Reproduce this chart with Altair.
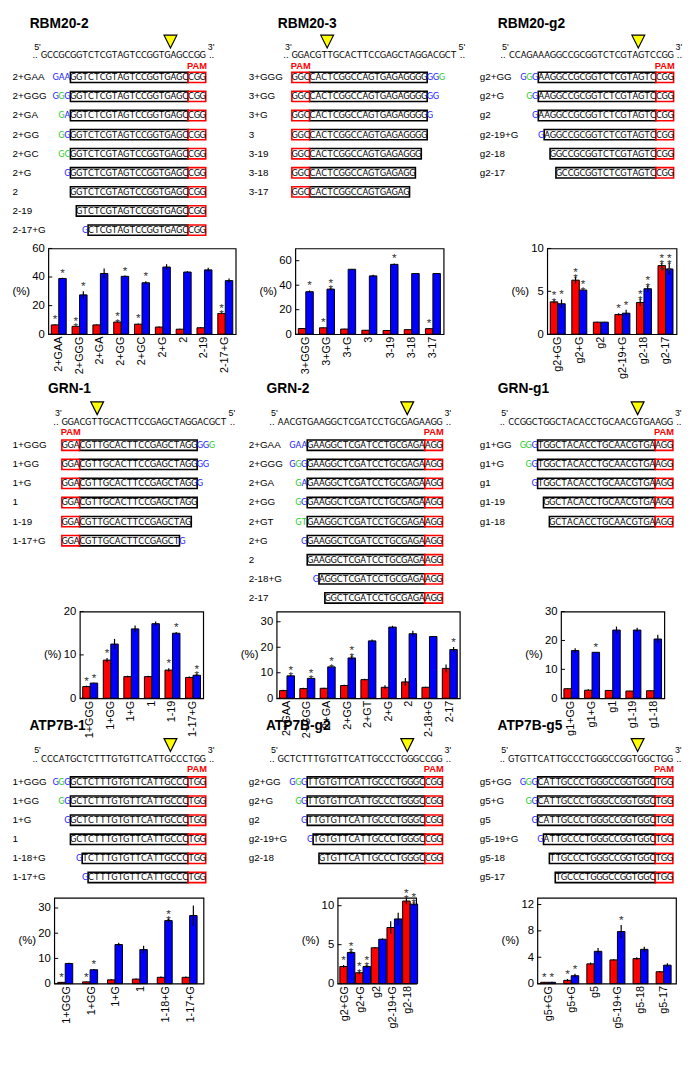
import altair as alt
import pandas as pd

FONT = "Liberation Sans"
SEQ_FONT = "Liberation Sans Narrow, DejaVu Sans Condensed, Liberation Sans"

# ======================= DATA =======================
# ---- RBM20-2 ----
RBM20_2_REF = "GCCGCGGTCTCGTAGTCCGGTGAGCCGG"
RBM20_2_LABELS = ["2+GAA", "2+GGG", "2+GA", "2+GG", "2+GC", "2+G", "2", "2-19", "2-17+G"]
RBM20_2_ADDED = ["GAA", "GGG", "GA", "GG", "GC", "G", "", "", "G"]
RBM20_2_ADDED_COLORS = ["bbb", "bgb", "gb", "gb", "gg", "b", "", "", "b"]
RBM20_2_GUIDES = ["GGTCTCGTAGTCCGGTGAGC"] * 7 + ["GTCTCGTAGTCCGGTGAGC", "CTCGTAGTCCGGTGAGC"]
RBM20_2_START = [5, 5, 5, 5, 5, 5, 5, 6, 8]
RBM20_2_RED = [6.5, 5.5, 6.5, 8.5, 7.0, 5.0, 3.5, 4.5, 14.5]
RBM20_2_RED_ERR = [0.3, 0.3, 0.3, 0.4, 0.5, 0.3, 0.3, 0.3, 0.6]
RBM20_2_BLUE = [39.0, 27.5, 42.5, 40.5, 36.0, 47.0, 43.5, 45.0, 37.5]
RBM20_2_BLUE_ERR = [0.5, 2.5, 3.5, 0.5, 1.0, 2.0, 0.5, 1.5, 1.5]
RBM20_2_RED_STARS = [1, 2, 0, 2, 1, 0, 0, 0, 2]
RBM20_2_BLUE_STARS = [1, 1, 0, 1, 1, 0, 0, 0, 0]

# ---- RBM20-3 ----
RBM20_3_REF = "GGACGTTGCACTTCCGAGCTAGGACGCT"
RBM20_3_LABELS = ["3+GGG", "3+GG", "3+G", "3", "3-19", "3-18", "3-17"]
RBM20_3_ADDED = ["GGG", "GG", "G", "", "", "", ""]
RBM20_3_ADDED_COLORS = ["bbg", "bb", "b", "", "", "", ""]
RBM20_3_GUIDES = ["CACTCGGCCAGTGAGAGGGG"] * 4 + ["CACTCGGCCAGTGAGAGGG", "CACTCGGCCAGTGAGAGG", "CACTCGGCCAGTGAGAG"]
RBM20_3_START = [3, 3, 3, 3, 3, 3, 3]
RBM20_3_RED = [4.6, 5.2, 4.2, 3.2, 3.0, 3.7, 4.5]
RBM20_3_RED_ERR = [0.2, 0.3, 0.2, 0.3, 0.2, 0.2, 0.3]
RBM20_3_BLUE = [34.7, 36.8, 53.0, 47.6, 57.0, 49.5, 49.5]
RBM20_3_BLUE_ERR = [1.0, 1.0, 0.3, 1.0, 0.8, 0.3, 0.3]
RBM20_3_RED_STARS = [0, 1, 0, 0, 0, 0, 1]
RBM20_3_BLUE_STARS = [1, 2, 0, 0, 1, 0, 0]

# ---- RBM20-g2 ----
RBM20_G2_REF = "CCAGAAAGGCCGCGGTCTCGTAGTCCGG"
RBM20_G2_LABELS = ["g2+GG", "g2+G", "g2", "g2-19+G", "g2-18", "g2-17"]
RBM20_G2_ADDED = ["GGG", "GG", "G", "G", "", ""]
RBM20_G2_ADDED_COLORS = ["bgb", "gb", "b", "b", "", ""]
RBM20_G2_GUIDES = ["AAGGCCGCGGTCTCGTAGTC"] * 3 + ["AGGCCGCGGTCTCGTAGTC", "GGCCGCGGTCTCGTAGTC", "GCCGCGGTCTCGTAGTC"]
RBM20_G2_START = [5, 5, 5, 6, 7, 8]
RBM20_G2_RED = [3.77, 6.3, 1.4, 2.3, 3.7, 8.0]
RBM20_G2_RED_ERR = [0.2, 0.4, 0.05, 0.15, 0.4, 0.3]
RBM20_G2_BLUE = [3.55, 5.15, 1.4, 2.45, 5.3, 7.6]
RBM20_G2_BLUE_ERR = [0.5, 0.1, 0.05, 0.4, 0.4, 0.7]
RBM20_G2_RED_STARS = [2, 2, 0, 1, 2, 3]
RBM20_G2_BLUE_STARS = [1, 2, 0, 1, 2, 3]

# ---- GRN-1 ----
GRN_1_REF = "GGACGTTGCACTTCCGAGCTAGGACGCT"
GRN_1_LABELS = ["1+GGG", "1+GG", "1+G", "1", "1-19", "1-17+G"]
GRN_1_ADDED = ["GGG", "GG", "G", "", "", "G"]
GRN_1_ADDED_COLORS = ["bbg", "bb", "b", "", "", "b"]
GRN_1_GUIDES = ["CGTTGCACTTCCGAGCTAGG"] * 4 + ["CGTTGCACTTCCGAGCTAG", "CGTTGCACTTCCGAGCT"]
GRN_1_START = [3, 3, 3, 3, 3, 3]
GRN_1_RED = [2.7, 8.8, 5.0, 5.0, 6.5, 4.8]
GRN_1_RED_ERR = [0.2, 0.5, 0.2, 0.2, 0.4, 0.2]
GRN_1_BLUE = [3.5, 12.5, 16.0, 17.2, 15.0, 5.3]
GRN_1_BLUE_ERR = [0.1, 1.2, 0.8, 0.5, 0.3, 0.3]
GRN_1_RED_STARS = [1, 1, 0, 0, 1, 0]
GRN_1_BLUE_STARS = [1, 0, 0, 0, 1, 2]

# ---- GRN-2 ----
GRN_2_REF = "AACGTGAAGGCTCGATCCTGCGAGAAGG"
GRN_2_LABELS = ["2+GAA", "2+GGG", "2+GA", "2+GG", "2+GT", "2+G", "2", "2-18+G", "2-17"]
GRN_2_ADDED = ["GAA", "GGG", "GA", "GG", "GT", "G", "", "G", ""]
GRN_2_ADDED_COLORS = ["bbb", "bgb", "gb", "gb", "gg", "b", "", "b", ""]
GRN_2_GUIDES = ["GAAGGCTCGATCCTGCGAGA"] * 7 + ["AGGCTCGATCCTGCGAGA", "GGCTCGATCCTGCGAGA"]
GRN_2_START = [5, 5, 5, 5, 5, 5, 5, 7, 8]
GRN_2_RED = [3.0, 3.8, 3.9, 5.0, 7.3, 4.3, 6.4, 4.3, 11.7]
GRN_2_RED_ERR = [0.3, 0.3, 0.2, 0.3, 0.3, 0.8, 1.5, 0.2, 1.5]
GRN_2_BLUE = [8.8, 7.8, 12.3, 15.8, 22.5, 27.9, 25.3, 24.2, 19.1]
GRN_2_BLUE_ERR = [0.3, 0.2, 0.2, 1.0, 0.5, 0.5, 1.2, 0.2, 1.0]
GRN_2_RED_STARS = [0, 0, 0, 0, 0, 0, 0, 0, 0]
GRN_2_BLUE_STARS = [2, 2, 2, 2, 0, 0, 0, 0, 1]

# ---- GRN-g1 ----
GRN_G1_REF = "CCGGCTGGCTACACCTGCAACGTGAAGG"
GRN_G1_LABELS = ["g1+GG", "g1+G", "g1", "g1-19", "g1-18"]
GRN_G1_ADDED = ["GGG", "GG", "G", "", ""]
GRN_G1_ADDED_COLORS = ["ggb", "gb", "b", "", ""]
GRN_G1_GUIDES = ["TGGCTACACCTGCAACGTGA"] * 3 + ["GGCTACACCTGCAACGTGA", "GCTACACCTGCAACGTGA"]
GRN_G1_START = [5, 5, 5, 6, 7]
GRN_G1_RED = [3.3, 2.8, 2.7, 2.5, 2.6]
GRN_G1_RED_ERR = [0.1, 0.3, 0.1, 0.1, 0.1]
GRN_G1_BLUE = [16.5, 15.9, 23.6, 23.6, 20.5]
GRN_G1_BLUE_ERR = [0.8, 0.1, 1.2, 0.8, 1.5]
GRN_G1_RED_STARS = [0, 0, 0, 0, 0]
GRN_G1_BLUE_STARS = [0, 1, 0, 0, 0]

# ---- ATP7B-1 ----
ATP7B_1_REF = "CCCATGCTCTTTGTGTTCATTGCCCTGG"
ATP7B_1_LABELS = ["1+GGG", "1+GG", "1+G", "1", "1-18+G", "1-17+G"]
ATP7B_1_ADDED = ["GGG", "GG", "G", "", "G", "G"]
ATP7B_1_ADDED_COLORS = ["bgb", "gb", "b", "", "b", "b"]
ATP7B_1_GUIDES = ["GCTCTTTGTGTTCATTGCCC"] * 4 + ["TCTTTGTGTTCATTGCCC", "CTTTGTGTTCATTGCCC"]
ATP7B_1_START = [5, 5, 5, 5, 7, 8]
ATP7B_1_RED = [0.5, 0.7, 1.5, 1.8, 2.5, 2.5]
ATP7B_1_RED_ERR = [0.1, 0.1, 0.2, 0.2, 0.3, 0.3]
ATP7B_1_BLUE = [8.0, 5.5, 15.5, 13.5, 25.0, 27.0]
ATP7B_1_BLUE_ERR = [0.3, 0.3, 0.7, 1.5, 0.8, 4.0]
ATP7B_1_RED_STARS = [1, 1, 0, 0, 0, 0]
ATP7B_1_BLUE_STARS = [0, 1, 0, 0, 2, 0]

# ---- ATP7B-g2 ----
ATP7B_G2_REF = "GCTCTTTGTGTTCATTGCCCTGGGCCGG"
ATP7B_G2_LABELS = ["g2+GG", "g2+G", "g2", "g2-19+G", "g2-18"]
ATP7B_G2_ADDED = ["GGG", "GG", "G", "G", ""]
ATP7B_G2_ADDED_COLORS = ["bgb", "gb", "b", "b", ""]
ATP7B_G2_GUIDES = ["TTGTGTTCATTGCCCTGGGC"] * 3 + ["TGTGTTCATTGCCCTGGGC", "GTGTTCATTGCCCTGGGC"]
ATP7B_G2_START = [5, 5, 5, 6, 7]
ATP7B_G2_RED = [2.2, 1.4, 4.6, 7.2, 10.6]
ATP7B_G2_RED_ERR = [0.2, 0.2, 0.1, 0.8, 0.4]
ATP7B_G2_BLUE = [4.0, 2.2, 5.7, 8.3, 10.2]
ATP7B_G2_BLUE_ERR = [0.2, 0.2, 0.1, 0.8, 0.3]
ATP7B_G2_RED_STARS = [1, 2, 0, 0, 2]
ATP7B_G2_BLUE_STARS = [2, 2, 0, 0, 2]

# ---- ATP7B-g5 ----
ATP7B_G5_REF = "GTGTTCATTGCCCTGGGCCGGTGGCTGG"
ATP7B_G5_LABELS = ["g5+GG", "g5+G", "g5", "g5-19+G", "g5-18", "g5-17"]
ATP7B_G5_ADDED = ["GGG", "GG", "G", "G", "", ""]
ATP7B_G5_ADDED_COLORS = ["bgb", "gb", "b", "b", "", ""]
ATP7B_G5_GUIDES = ["CATTGCCCTGGGCCGGTGGC"] * 3 + ["ATTGCCCTGGGCCGGTGGC", "TTGCCCTGGGCCGGTGGC", "TGCCCTGGGCCGGTGGC"]
ATP7B_G5_START = [5, 5, 5, 6, 7, 8]
ATP7B_G5_RED = [0.2, 0.5, 3.0, 3.6, 3.8, 1.8]
ATP7B_G5_RED_ERR = [0.05, 0.2, 0.2, 0.1, 0.2, 0.1]
ATP7B_G5_BLUE = [0.2, 1.2, 4.9, 7.9, 5.2, 2.8]
ATP7B_G5_BLUE_ERR = [0.1, 0.3, 0.5, 1.0, 0.4, 0.3]
ATP7B_G5_RED_STARS = [1, 1, 0, 0, 0, 0]
ATP7B_G5_BLUE_STARS = [1, 1, 0, 1, 0, 0]


def panel(ref, ends, cut, pam, pam_at, side, labels, added, colors, guides, start,
          red, red_err, blue, blue_err, red_stars, blue_stars, ymax, ticks):
    return dict(ref=ref, ends=ends, cut=cut, pam=pam, pam_at=pam_at, side=side, labels=labels,
                added=added, colors=colors, guides=guides, start=start, red=red, red_err=red_err,
                blue=blue, blue_err=blue_err, red_stars=red_stars, blue_stars=blue_stars,
                ymax=ymax, ticks=ticks)


PANELS = {
    "RBM20-2": panel(RBM20_2_REF, ("5'", "3'"), 22, "CGG", 25, "left", RBM20_2_LABELS, RBM20_2_ADDED,
                     RBM20_2_ADDED_COLORS, RBM20_2_GUIDES, RBM20_2_START, RBM20_2_RED, RBM20_2_RED_ERR,
                     RBM20_2_BLUE, RBM20_2_BLUE_ERR, RBM20_2_RED_STARS, RBM20_2_BLUE_STARS, 60, [0, 20, 40, 60]),
    "RBM20-3": panel(RBM20_3_REF, ("3'", "5'"), 6, "GGC", 0, "right", RBM20_3_LABELS, RBM20_3_ADDED,
                     RBM20_3_ADDED_COLORS, RBM20_3_GUIDES, RBM20_3_START, RBM20_3_RED, RBM20_3_RED_ERR,
                     RBM20_3_BLUE, RBM20_3_BLUE_ERR, RBM20_3_RED_STARS, RBM20_3_BLUE_STARS, 70, [0, 20, 40, 60]),
    "RBM20-g2": panel(RBM20_G2_REF, ("5'", "3'"), 22, "CGG", 25, "left", RBM20_G2_LABELS, RBM20_G2_ADDED,
                      RBM20_G2_ADDED_COLORS, RBM20_G2_GUIDES, RBM20_G2_START, RBM20_G2_RED, RBM20_G2_RED_ERR,
                      RBM20_G2_BLUE, RBM20_G2_BLUE_ERR, RBM20_G2_RED_STARS, RBM20_G2_BLUE_STARS, 10, [0, 5, 10]),
    "GRN-1": panel(GRN_1_REF, ("3'", "5'"), 6, "GGA", 0, "right", GRN_1_LABELS, GRN_1_ADDED,
                   GRN_1_ADDED_COLORS, GRN_1_GUIDES, GRN_1_START, GRN_1_RED, GRN_1_RED_ERR,
                   GRN_1_BLUE, GRN_1_BLUE_ERR, GRN_1_RED_STARS, GRN_1_BLUE_STARS, 20, [0, 10, 20]),
    "GRN-2": panel(GRN_2_REF, ("5'", "3'"), 22, "AGG", 25, "left", GRN_2_LABELS, GRN_2_ADDED,
                   GRN_2_ADDED_COLORS, GRN_2_GUIDES, GRN_2_START, GRN_2_RED, GRN_2_RED_ERR,
                   GRN_2_BLUE, GRN_2_BLUE_ERR, GRN_2_RED_STARS, GRN_2_BLUE_STARS, 34, [0, 10, 20, 30]),
    "GRN-g1": panel(GRN_G1_REF, ("5'", "3'"), 22, "AGG", 25, "left", GRN_G1_LABELS, GRN_G1_ADDED,
                    GRN_G1_ADDED_COLORS, GRN_G1_GUIDES, GRN_G1_START, GRN_G1_RED, GRN_G1_RED_ERR,
                    GRN_G1_BLUE, GRN_G1_BLUE_ERR, GRN_G1_RED_STARS, GRN_G1_BLUE_STARS, 30, [0, 10, 20, 30]),
    "ATP7B-1": panel(ATP7B_1_REF, ("5'", "3'"), 22, "TGG", 25, "left", ATP7B_1_LABELS, ATP7B_1_ADDED,
                     ATP7B_1_ADDED_COLORS, ATP7B_1_GUIDES, ATP7B_1_START, ATP7B_1_RED, ATP7B_1_RED_ERR,
                     ATP7B_1_BLUE, ATP7B_1_BLUE_ERR, ATP7B_1_RED_STARS, ATP7B_1_BLUE_STARS, 34, [0, 10, 20, 30]),
    "ATP7B-g2": panel(ATP7B_G2_REF, ("5'", "3'"), 22, "CGG", 25, "left", ATP7B_G2_LABELS, ATP7B_G2_ADDED,
                      ATP7B_G2_ADDED_COLORS, ATP7B_G2_GUIDES, ATP7B_G2_START, ATP7B_G2_RED, ATP7B_G2_RED_ERR,
                      ATP7B_G2_BLUE, ATP7B_G2_BLUE_ERR, ATP7B_G2_RED_STARS, ATP7B_G2_BLUE_STARS, 11, [0, 5, 10]),
    "ATP7B-g5": panel(ATP7B_G5_REF, ("5'", "3'"), 22, "TGG", 25, "left", ATP7B_G5_LABELS, ATP7B_G5_ADDED,
                      ATP7B_G5_ADDED_COLORS, ATP7B_G5_GUIDES, ATP7B_G5_START, ATP7B_G5_RED, ATP7B_G5_RED_ERR,
                      ATP7B_G5_BLUE, ATP7B_G5_BLUE_ERR, ATP7B_G5_RED_STARS, ATP7B_G5_BLUE_STARS, 13, [0, 4, 8, 12]),
}

# ======================= STYLE / LAYOUT =======================
NT_COLORS = {"k": "black", "b": "#1a1aff", "g": "#1fcc1f"}
BAR_COLORS = {"r": "#ff0000", "b": "#0000ff"}
BOX_COLORS = {"g": "black", "p": "#ff0000"}

COL_REF = 6.07      # px per nucleotide column in the reference
SX = 0.985          # horizontal compression (page margin)
SY = 0.99           # vertical compression (page margin)
COL_C = COL_REF * SX
ROW_STEP = 19.6 * SY
BOX_H = 0.27
TEXT_W = 683


def vy(ref_y):
    return (ref_y - 1.0) * SY


TEXT_LAYOUT = {  # (sequence start x, row-label x, title x)
    "RBM20-2": (30.0, 0.7, 18.3), "RBM20-3": (288.8, 244.3, 274.3), "RBM20-g2": (512.7, 482.7, 501.3),
    "GRN-1": (51.5, 0.7, 37.3), "GRN-2": (274.3, 244.3, 262.7), "GRN-g1": (512.0, 482.7, 501.3),
    "ATP7B-1": (30.0, 0.7, 18.0), "ATP7B-g2": (274.3, 244.3, 262.0), "ATP7B-g5": (512.0, 482.7, 501.0),
}
BAR_LAYOUT = {  # plot left / right
    "RBM20-2": (36.7, 230.0), "RBM20-3": (290.3, 443.3), "RBM20-g2": (549.3, 682.7),
    "GRN-1": (70.0, 197.3), "GRN-2": (272.0, 461.0), "GRN-g1": (563.7, 670.3),
    "ATP7B-1": (43.0, 197.0), "ATP7B-g2": (335.0, 416.0), "ATP7B-g5": (540.0, 683.0),
}
ROWS = [["RBM20-2", "RBM20-3", "RBM20-g2"], ["GRN-1", "GRN-2", "GRN-g1"], ["ATP7B-1", "ATP7B-g2", "ATP7B-g5"]]
OFFS = [
    {"title": -55.0, "tri": -36.7, "ends": -31.0, "seq": -22.4, "pam": -11.7},
    {"title": -57.3, "tri": -38.0, "ends": -33.3, "seq": -24.0, "pam": -13.3},
    {"title": -57.3, "tri": -38.0, "ends": -33.3, "seq": -24.0, "pam": -13.3},
]
PLOT_TOP = [vy(237.0), vy(609.0), vy(902.0)]
PLOT_H = [88 * SY, 89 * SY, 88 * SY]
ROW0 = [vy(61.7), vy(439.0), vy(784.0)]
T_TOP = [0.0, PLOT_TOP[0], PLOT_TOP[1]]
T_H = [PLOT_TOP[i] - T_TOP[i] for i in range(3)]


def build_text(names, off, T, h, R0):
    lab, ttl, chs, rct, ends, dots, pams, tris = [], [], [], [], [], [], [], []
    yo = {k: v * SY / ROW_STEP for k, v in off.items()}
    for name in names:
        p = PANELS[name]
        seq0_px, lab_px, ttl_px = TEXT_LAYOUT[name]
        s0 = seq0_px / COL_REF
        n = len(p["ref"])
        ttl.append({"x": ttl_px / COL_REF, "y": yo["title"], "t": name})
        for i, ch in enumerate(p["ref"]):
            chs.append({"x": s0 + i + 0.5, "y": yo["seq"], "t": ch, "c": NT_COLORS["k"]})
        dots.append({"x": s0 - 1.0, "y": yo["seq"], "t": ".."})
        dots.append({"x": s0 + n + 1.0, "y": yo["seq"], "t": ".."})
        ends.append({"x": s0 - 0.6, "y": yo["ends"], "t": p["ends"][0]})
        ends.append({"x": s0 + n + 0.9, "y": yo["ends"], "t": p["ends"][1]})
        tris.append({"x": s0 + p["cut"], "y": yo["tri"]})
        pams.append({"x": s0 + p["pam_at"] + 1.5, "y": yo["pam"], "t": "PAM"})
        for k, label in enumerate(p["labels"]):
            lab.append({"x": lab_px / COL_REF, "y": k, "t": label})
            g = p["guides"][k]
            b0 = p["start"][k]
            b1 = b0 + len(g)
            rct.append({"x": s0 + b0, "x2": s0 + b1, "y": k - BOX_H, "y2": k + BOX_H, "k": BOX_COLORS["g"]})
            rct.append({"x": s0 + p["pam_at"], "x2": s0 + p["pam_at"] + len(p["pam"]),
                        "y": k - BOX_H, "y2": k + BOX_H, "k": BOX_COLORS["p"]})
            for i, ch in enumerate(g):
                chs.append({"x": s0 + b0 + i + 0.5, "y": k, "t": ch, "c": NT_COLORS["k"]})
            for i, ch in enumerate(p["pam"]):
                chs.append({"x": s0 + p["pam_at"] + i + 0.5, "y": k, "t": ch, "c": NT_COLORS["k"]})
            add = p["added"][k]
            col = p["colors"][k]
            a0 = b0 - len(add) if p["side"] == "left" else b1
            for i, ch in enumerate(add):
                chs.append({"x": s0 + a0 + i + 0.5, "y": k, "t": ch, "c": NT_COLORS[col[i]]})

    xs = alt.Scale(domain=[0, TEXT_W / COL_C], nice=False, zero=False)
    ys = alt.Scale(domain=[(T - R0) / ROW_STEP, (T + h - R0) / ROW_STEP], nice=False, zero=False, reverse=True)
    X = alt.X("x:Q", scale=xs, axis=None)
    Y = alt.Y("y:Q", scale=ys, axis=None)

    rects = alt.Chart(pd.DataFrame(rct)).mark_rect(fill="white", strokeWidth=1.6).encode(
        x=X, x2="x2:Q", y=Y, y2="y2:Q", stroke=alt.Stroke("k:N", scale=None))
    chars = alt.Chart(pd.DataFrame(chs)).mark_text(font=SEQ_FONT, fontSize=9.5, align="center", baseline="middle").encode(
        x=X, y=Y, text="t:N", color=alt.Color("c:N", scale=None))
    dotl = alt.Chart(pd.DataFrame(dots)).mark_text(font=SEQ_FONT, fontSize=9.5, align="center", baseline="middle",
                                                   color="black").encode(x=X, y=Y, text="t:N")
    endl = alt.Chart(pd.DataFrame(ends)).mark_text(font=FONT, fontSize=9, align="center", baseline="middle",
                                                   color="black").encode(x=X, y=Y, text="t:N")
    paml = alt.Chart(pd.DataFrame(pams)).mark_text(font=FONT, fontSize=9.5, fontWeight="bold", align="center",
                                                   baseline="middle", color="#ff0000").encode(x=X, y=Y, text="t:N")
    tri = alt.Chart(pd.DataFrame(tris)).mark_point(shape="M-1,-1L1,-1L0,1Z", size=170, filled=True, fill="#ffff00",
                                                   stroke="black", strokeWidth=1.2, opacity=1).encode(x=X, y=Y)
    labs = alt.Chart(pd.DataFrame(lab)).mark_text(font=FONT, fontSize=10, align="left", baseline="middle",
                                                  color="black").encode(x=X, y=Y, text="t:N")
    ttls = alt.Chart(pd.DataFrame(ttl)).mark_text(font=FONT, fontSize=14, fontWeight="bold", align="left",
                                                  baseline="middle", color="black").encode(x=X, y=Y, text="t:N")
    return alt.layer(rects, chars, dotl, endl, paml, tri, labs, ttls).properties(width=TEXT_W, height=h)


def build_bar(name, width, height):
    p = PANELS[name]
    cats = p["labels"]
    rows = []
    for i, cat in enumerate(cats):
        for s, v, e, nst in (("r", p["red"][i], p["red_err"][i], p["red_stars"][i]),
                             ("b", p["blue"][i], p["blue_err"][i], p["blue_stars"][i])):
            rows.append({"cat": cat, "s": s, "fill": BAR_COLORS[s], "v": v, "lo": v - e, "hi": v + e,
                         "star": "\n".join(["*"] * nst)})
    df = pd.DataFrame(rows)
    xax = alt.Axis(title=None, labelAngle=-90, labelFontSize=11, labelPadding=2, ticks=False, tickSize=0,
                   domain=False, labelColor="black", labelFont=FONT)
    X = alt.X("cat:N", sort=cats, scale=alt.Scale(paddingInner=0.28, paddingOuter=0.14), axis=xax)
    XO = alt.XOffset("s:N", sort=["r", "b"], scale=alt.Scale(paddingInner=0, paddingOuter=0))
    ys = alt.Scale(domain=[0, p["ymax"]], nice=False, zero=True)
    yax = alt.Axis(values=p["ticks"], title="(%)", titleAngle=0, titleAlign="right", titleBaseline="middle",
                   titleFontWeight="normal", titleFontSize=11.5, titlePadding=2, titleFont=FONT, titleColor="black",
                   labelFontSize=11.5, labelPadding=4, labelFont=FONT, labelColor="black", ticks=False, tickSize=0,
                   domain=False, grid=False, minExtent=17, maxExtent=17)
    base = alt.Chart(df)
    bars = base.mark_bar(stroke="black", strokeWidth=1).encode(
        x=X, xOffset=XO, y=alt.Y("v:Q", scale=ys, axis=yax), color=alt.Color("fill:N", scale=None))
    errs = base.mark_rule(color="black", strokeWidth=1.2).encode(
        x=X, xOffset=XO, y=alt.Y("lo:Q", scale=ys, axis=yax), y2="hi:Q")
    stars = base.transform_filter("datum.star != ''").mark_text(
        font=FONT, fontSize=12, lineBreak="\n", lineHeight=6.5, baseline="bottom", dy=2, color="#333333").encode(
        x=X, xOffset=XO, y=alt.Y("hi:Q", scale=ys, axis=yax), text="star:N")
    tks = alt.Chart(pd.DataFrame({"t": p["ticks"]})).mark_rule(color="black", strokeWidth=1).encode(
        x=alt.value(0), x2=alt.value(4), y=alt.Y("t:Q", scale=ys, axis=yax))
    return alt.layer(bars, errs, stars, tks).properties(
        width=width, height=height, view=alt.ViewBackground(stroke="black", strokeWidth=1.2))


def spacer(w):
    return alt.Chart(pd.DataFrame({"z": [0]})).mark_point(opacity=0).encode(
        x=alt.value(0), y=alt.value(0)).properties(width=w, height=4)


cells = []
for r in range(3):
    cells.append(build_text(ROWS[r], OFFS[r], T_TOP[r], T_H[r], ROW0[r]))
    parts = []
    prev_right = 0.0
    for name in ROWS[r]:
        left, right = BAR_LAYOUT[name]
        parts.append(spacer(left * SX - prev_right))
        parts.append(build_bar(name, (right - left) * SX, PLOT_H[r]))
        prev_right = right * SX
    cells.append(alt.hconcat(*parts, spacing=0, bounds="flush"))

chart = alt.vconcat(*cells, spacing=0, bounds="flush").properties(padding=0).configure(font=FONT).configure_view(
    stroke="transparent")

chart.save("out.html", embed_options={"renderer": "svg", "actions": False})
